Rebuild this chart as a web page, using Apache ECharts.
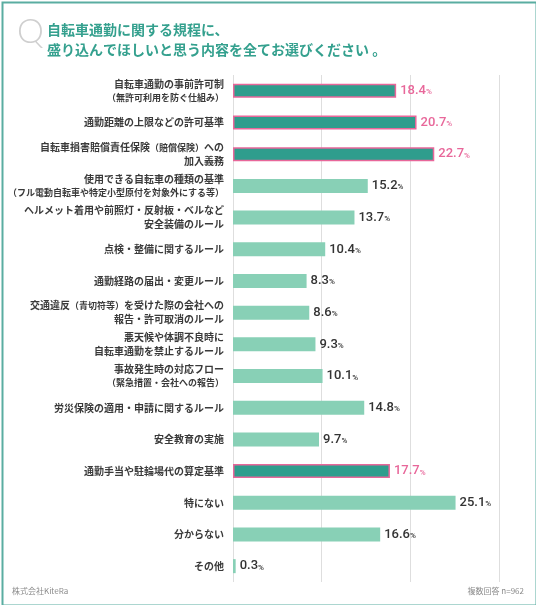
<!DOCTYPE html>
<html>
<head>
<meta charset="utf-8">
<script src="https://cdn.jsdelivr.net/npm/echarts@6/dist/echarts.min.js"></script>
<style>
  html, body { margin: 0; padding: 0; background: #fff; }
  #main { width: 536px; height: 605px; }
</style>
</head>
<body>
<div id="main"></div>
<script>
// 設問の選択肢（上から順に）
const categories = [
  '自転車通勤の事前許可制\n（無許可利用を防ぐ仕組み）',
  '通勤距離の上限などの許可基準',
  '自転車損害賠償責任保険（賠償保険）への\n加入義務',
  '使用できる自転車の種類の基準\n（フル電動自転車や特定小型原付を対象外にする等）',
  'ヘルメット着用や前照灯・反射板・ベルなど\n安全装備のルール',
  '点検・整備に関するルール',
  '通勤経路の届出・変更ルール',
  '交通違反（青切符等）を受けた際の会社への\n報告・許可取消のルール',
  '悪天候や体調不良時に\n自転車通勤を禁止するルール',
  '事故発生時の対応フロー\n（緊急措置・会社への報告）',
  '労災保険の適用・申請に関するルール',
  '安全教育の実施',
  '通勤手当や駐輪場代の算定基準',
  '特にない',
  '分からない',
  'その他'
];
// 回答率(%)
const values = [18.4, 20.7, 22.7, 15.2, 13.7, 10.4, 8.3, 8.6, 9.3, 10.1, 14.8, 9.7, 17.7, 25.1, 16.6, 0.3];
// 強調表示する項目
const highlighted = [0, 1, 2, 12];
const xTicks = [0, 10, 20, 30];

const TEAL = '#2f9d8d';
const LIGHT = '#88d0b6';
const PINK = '#e8679a';

const chart = echarts.init(document.getElementById('main'));

const seriesData = values.map(function (v, i) {
  const hi = highlighted.indexOf(i) >= 0;
  return {
    value: v,
    itemStyle: hi ? { color: TEAL, borderColor: PINK, borderWidth: 1.5 } : { color: LIGHT },
    label: hi ? {
      rich: {
        n: { color: PINK, fontSize: 13, fontFamily: 'Roboto', fontWeight: 500 },
        p: { color: PINK, fontSize: 8, fontFamily: 'Roboto', fontWeight: 500, padding: [3, 0, 0, 0] }
      }
    } : undefined
  };
});

const option = {
  backgroundColor: '#fff',
  animation: false,
  graphic: [
    {
      type: 'rect', left: 0, top: 0,
      shape: { x: 1, y: 1, width: 534, height: 603 },
      style: { fill: 'none', stroke: '#5aada1', lineWidth: 2 }
    },
    {
      type: 'text', left: 17, top: 15,
      style: { text: 'Q', fontSize: 34, fontFamily: 'Lato', fontWeight: 300, fill: '#cfcfcf' }
    },
    {
      type: 'text', left: 47, top: 20,
      style: {
        text: '自転車通勤に関する規程に、\n盛り込んでほしいと思う内容を全てお選びください 。',
        fontSize: 14, lineHeight: 20, fontWeight: 'bold',
        fontFamily: 'Noto Sans CJK JP', fill: '#34a08e'
      }
    },
    {
      type: 'text', left: 12, top: 587,
      style: { text: '株式会社KiteRa', fontSize: 8, fontFamily: 'Noto Sans CJK JP', fill: '#8a8a8a' }
    },
    {
      type: 'text', right: 12, top: 587,
      style: { text: '複数回答 n=962', fontSize: 8, fontFamily: 'Noto Sans CJK JP', fill: '#8a8a8a' }
    }
  ],
  grid: { left: 233, right: 37, top: 75, bottom: 23, containLabel: false },
  xAxis: {
    type: 'value',
    min: xTicks[0],
    max: xTicks[xTicks.length - 1],
    interval: 10,
    axisLabel: { show: false },
    axisLine: { show: false },
    axisTick: { show: false },
    splitLine: { show: true, lineStyle: { color: '#dedede', width: 1 } }
  },
  yAxis: {
    type: 'category',
    inverse: true,
    data: categories,
    axisLine: { show: false },
    axisTick: { show: false },
    axisLabel: {
      margin: 9,
      align: 'right',
      color: '#3a3a3a',
      fontSize: 10,
      fontWeight: 'bold',
      lineHeight: 14,
      fontFamily: 'Noto Sans CJK JP',
      formatter: function (name) {
        // 括弧内は小さめに
        return name.replace(/（[^）]*）/g, function (m) { return '{s|' + m + '}'; });
      },
      rich: {
        s: { fontSize: 9, fontWeight: 'bold', color: '#3a3a3a', lineHeight: 14, fontFamily: 'Noto Sans CJK JP' }
      }
    }
  },
  series: [{
    type: 'bar',
    data: seriesData,
    barWidth: 14,
    silent: true,
    label: {
      show: true,
      position: 'right',
      distance: 4,
      formatter: function (p) { return '{n|' + p.value.toFixed(1) + '}{p|%}'; },
      rich: {
        n: { color: '#333', fontSize: 13, fontFamily: 'Roboto', fontWeight: 500 },
        p: { color: '#333', fontSize: 8, fontFamily: 'Roboto', fontWeight: 500, padding: [3, 0, 0, 0] }
      }
    }
  }]
};

chart.setOption(option);
</script>
</body>
</html>
